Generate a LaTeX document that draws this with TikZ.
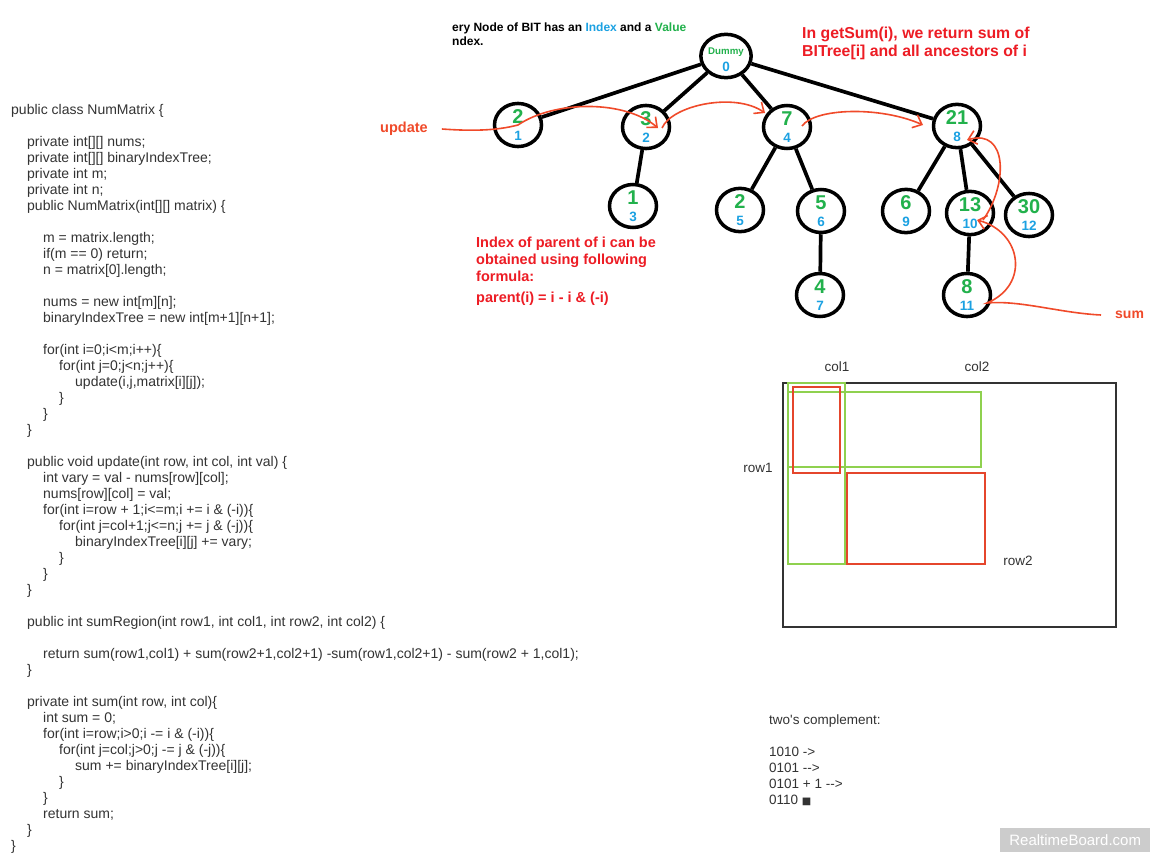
\documentclass[tikz,border=0pt]{standalone}
\usepackage{fontspec}
\newfontfamily\arial{Liberation Sans}
\newfontfamily\dejavu{DejaVu Sans}
\usepackage{tikz}
\usetikzlibrary{arrows.meta,shapes.geometric,positioning}
\definecolor{valgreen}{HTML}{22B14C}
\definecolor{idxblue}{HTML}{1BA1E2}
\definecolor{notered}{HTML}{ED1C24}
\definecolor{penred}{HTML}{F04A2A}
\definecolor{rectred}{HTML}{E5462C}
\definecolor{rectgreen}{HTML}{8FD14F}
\definecolor{codegrey}{HTML}{333333}
\definecolor{wmgrey}{HTML}{CCCCCC}
\newcommand{\indt}{\hspace*{16pt}}
\newcommand{\bitval}[2]{\textcolor{valgreen}{\fontsize{20}{20}\selectfont #1}\\\textcolor{idxblue}{#2}}

\begin{document}
\begin{tikzpicture}[x=1pt,y=-1pt,font=\arial,
	bit/.style={ellipse,draw=black,line width=3.5pt,minimum width=47pt,minimum height=43pt,inner sep=0pt,align=center,font=\arial\bfseries\fontsize{13.5}{16.5}\selectfont},
	edge/.style={line width=3.7pt,black},
	pen/.style={draw=penred,line width=1.6pt},
	pentip/.style={-{Straight Barb[length=8pt,width=14pt]}},
	note/.style={inner sep=0pt,align=left,text=notered,font=\arial\bfseries\fontsize{15.8}{18}\selectfont},
	pennote/.style={inner sep=0pt,text=penred,font=\arial\bfseries\fontsize{14.5}{17}\selectfont},
	plain/.style={inner sep=0pt,align=left,text=codegrey,font=\arial\fontsize{13.5}{16}\selectfont},
	mframe/.style={draw=codegrey,line width=2pt},
	mgreen/.style={draw=rectgreen,line width=2pt},
	mred/.style={draw=rectred,line width=2pt}]

		\path[fill=white] (0,0) rectangle (1159,862);
		\useasboundingbox (0,0) rectangle (1159,862);

		\node[plain,anchor=north west,font=\arial\fontsize{14}{16}\selectfont] (code) at (11,104) {public class NumMatrix \{\\[16pt]
\indt private int[][] nums;\\
\indt private int[][] binaryIndexTree;\\
\indt private int m;\\
\indt private int n;\\
\indt public NumMatrix(int[][] matrix) \{\\[16pt]
\indt\indt m = matrix.length;\\
\indt\indt if(m == 0) return;\\
\indt\indt n = matrix[0].length;\\[16pt]
\indt\indt nums = new int[m][n];\\
\indt\indt binaryIndexTree = new int[m+1][n+1];\\[16pt]
\indt\indt for(int i=0;i<m;i++)\{\\
\indt\indt\indt for(int j=0;j<n;j++)\{\\
\indt\indt\indt\indt update(i,j,matrix[i][j]);\\
\indt\indt\indt \}\\
\indt\indt \}\\
\indt \}\\[16pt]
\indt public void update(int row, int col, int val) \{\\
\indt\indt int vary = val - nums[row][col];\\
\indt\indt nums[row][col] = val;\\
\indt\indt for(int i=row + 1;i<=m;i += i \& (-i))\{\\
\indt\indt\indt for(int j=col+1;j<=n;j += j \& (-j))\{\\
\indt\indt\indt\indt binaryIndexTree[i][j] += vary;\\
\indt\indt\indt \}\\
\indt\indt \}\\
\indt \}\\[16pt]
\indt public int sumRegion(int row1, int col1, int row2, int col2) \{\\[16pt]
\indt\indt return sum(row1,col1) + sum(row2+1,col2+1) -sum(row1,col2+1) - sum(row2 + 1,col1);\\
\indt \}\\[16pt]
\indt private int sum(int row, int col)\{\\
\indt\indt int sum = 0;\\
\indt\indt for(int i=row;i>0;i -= i \& (-i))\{\\
\indt\indt\indt for(int j=col;j>0;j -= j \& (-j))\{\\
\indt\indt\indt\indt sum += binaryIndexTree[i][j];\\
\indt\indt\indt \}\\
\indt\indt \}\\
\indt\indt return sum;\\
\indt \}\\
\}};

		\node[inner sep=0pt,align=left,font=\arial\bfseries\fontsize{12}{14}\selectfont,anchor=north west] (bitnote) at (452,23) {ery Node of BIT has an \textcolor{idxblue}{Index} and a \textcolor{valgreen}{Value}\\ndex.};
		\node[note,anchor=north west] (getsum) at (802,27) {In getSum(i), we return sum of\\BITree[i] and all ancestors of i};
		\node[note,anchor=north west,font=\arial\bfseries\fontsize{14.5}{17}\selectfont] (parent) at (476,237) {Index of parent of i can be\\obtained using following\\formula:\\[4pt]parent(i) = i - i \& (-i)};

		\node[bit] (i0) at (726,56) {\rule{0pt}{14pt}\textcolor{valgreen}{\fontsize{9.7}{10}\selectfont Dummy}\\[0pt]\textcolor{idxblue}{0}};
		\node[bit] (i1) at (518,125) {\bitval{2}{1}};
		\node[bit] (i2) at (646,127) {\bitval{3}{2}};
		\node[bit] (i3) at (633,206) {\bitval{1}{3}};
		\node[bit] (i4) at (787,127) {\bitval{7}{4}};
		\node[bit] (i5) at (740,210) {\bitval{2}{5}};
		\node[bit] (i6) at (821,211) {\bitval{5}{6}};
		\node[bit] (i7) at (820,295) {\bitval{4}{7}};
		\node[bit] (i8) at (957,126) {\bitval{21}{8}};
		\node[bit] (i9) at (906,211) {\bitval{6}{9}};
		\node[bit] (i10) at (970,213) {\bitval{13}{10}};
		\node[bit] (i11) at (967,295) {\bitval{8}{11}};
		\node[bit] (i12) at (1029,215) {\bitval{30}{12}};

		\draw[edge] (i0) -- (i1);
		\draw[edge] (i0) -- (i2);
		\draw[edge] (i0) -- (i4);
		\draw[edge] (i0) -- (i8);
		\draw[edge] (i2) -- (i3);
		\draw[edge] (i4) -- (i5);
		\draw[edge] (i4) -- (i6);
		\draw[edge] (i6) -- (i7);
		\draw[edge] (i8) -- (i9);
		\draw[edge] (i8) -- (i10);
		\draw[edge] (i8) -- (i12);
		\draw[edge] (i10) -- (i11);

		\node[pennote,anchor=west] (updlbl) at (380,129) {update};
		\node[pennote,anchor=west,font=\arial\bfseries\fontsize{14}{17}\selectfont] (sumlbl) at (1115,315) {sum};

		\draw[pen,pentip] ([xshift=14pt]updlbl.east) .. controls (470,131) and (495,131) .. (i1.center) .. controls (555,100) and (625,100) .. ([shift={(12,1)}]i2.center);
		\draw[pen,pentip] ([shift={(16,1)}]i2.center) .. controls (672,105) and (735,92) .. ([shift={(-22,-14)}]i4.center);
		\draw[pen,pentip] ([shift={(15,-1)}]i4.center) .. controls (815,108) and (880,106) .. ([shift={(-34,-1)}]i8.center);
		\draw[pen,pentip] ([xshift=-14pt]sumlbl.west) .. controls (1060,313) and (1020,300) .. ([shift={(20,8)}]i11.center) .. controls (1030,285) and (1022,232) .. ([shift={(7,7)}]i10.center);
		\draw[pen,pentip] ([shift={(13,7)}]i10.center) .. controls (1008,185) and (1008,128) .. ([shift={(10,14)}]i8.center);

		\draw[mframe] (783,383) rectangle (1116,627);
		\draw[mgreen] (788,383) rectangle (845,564);
		\draw[mgreen] (788,392) rectangle (981,467);
		\draw[mred] (793,387) rectangle (840,473);
		\draw[mred] (847,473) rectangle (985,564);
		\node[plain] (col1) at (837,367) {col1};
		\node[plain] (col2) at (977,367) {col2};
		\node[plain] (row1) at (758,468) {row1};
		\node[plain] (row2) at (1018,561) {row2};

		\node[plain,anchor=north west] (twos) at (769,715) {two's complement:\\[16pt]1010 ->\\0101 -->\\0101 + 1 -->\\0110 {\dejavu\fontsize{10}{12}\selectfont ■}};

		\node[fill=wmgrey,text=white,minimum width=150pt,minimum height=24pt,anchor=north west,font=\arial\fontsize{15}{17}\selectfont] (wm) at (1000,828) {RealtimeBoard.com};
\end{tikzpicture}
\end{document}
